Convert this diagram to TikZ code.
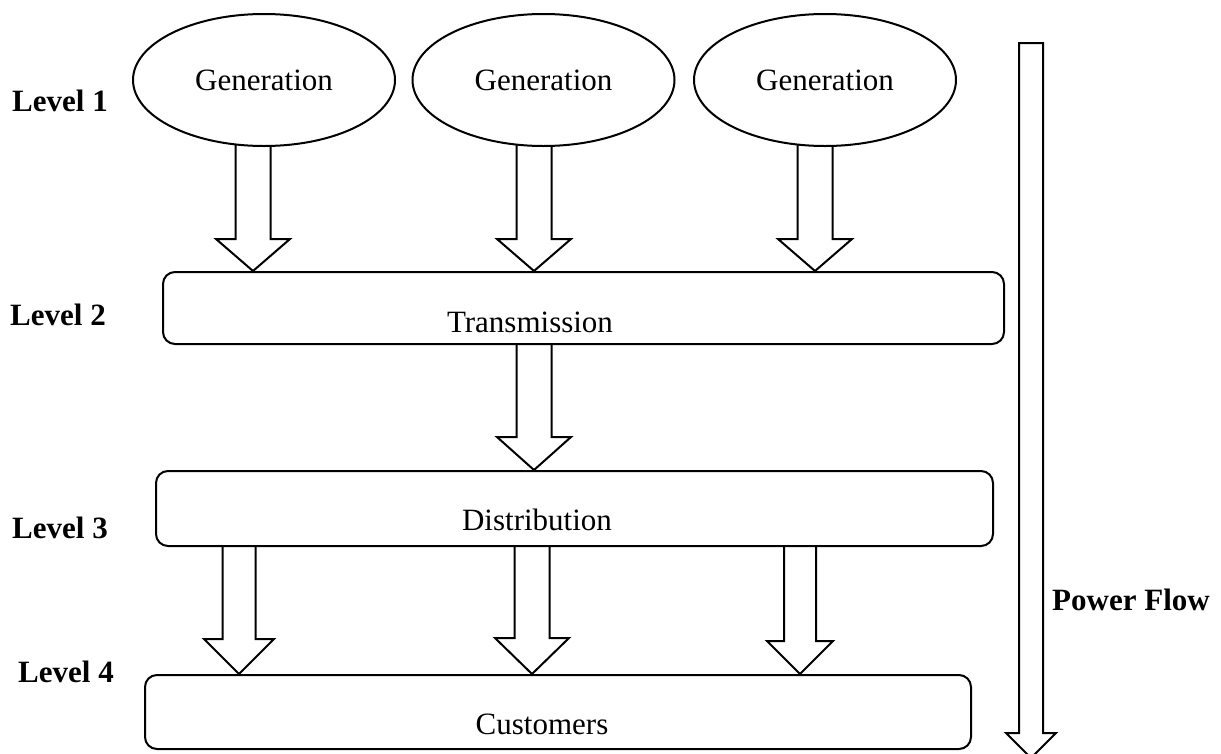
\documentclass[tikz,border=0pt]{standalone}
\usepackage{fontspec}
\setmainfont{Liberation Serif}
\usetikzlibrary{shapes.geometric,calc,backgrounds}

\tikzset{
  every node/.style={font=\fontsize{31}{37}\selectfont, inner sep=0pt},
  gen/.style={ellipse, draw, line width=2pt, fill=white,
              minimum width=262pt, minimum height=132pt},
  stage/.style={rectangle, draw, rounded corners=12pt, line width=2pt, fill=white},
  lvl/.style={anchor=base west, font=\fontsize{31}{37}\selectfont\bfseries},
  flow/.style={draw, line width=2pt, fill=white, line join=miter},
}

% hollow block arrow: from, to, shaft half-width, head half-width, head length
\newcommand\blockarrow[5]{%
  \draw[flow] let \p1=(#1), \p2=(#2) in
    (\x1-#3,\y1) -- (\x1-#3,\y2+#5) -- (\x1-#4,\y2+#5) -- (\x2,\y2)
    -- (\x1+#4,\y2+#5) -- (\x1+#3,\y2+#5) -- (\x1+#3,\y1);
}

\begin{document}
\begin{tikzpicture}[x=1pt,y=-1pt]
\useasboundingbox (0,0) rectangle (1221,753);

% level 1: generation
\node[gen] (g1) at (264,80)   {Generation};
\node[gen] (g2) at (543.5,80) {Generation};
\node[gen] (g3) at (825,80)   {Generation};

% levels 2 to 4
\node[stage, minimum width=841pt, minimum height=72pt] (trans) at (583.5,308) {};
\node (transtxt) at (530,322) {Transmission};
\node[stage, minimum width=837pt, minimum height=75pt] (dist) at (574.5,508.5) {};
\node (disttxt) at (537,520) {Distribution};
\node[stage, minimum width=826pt, minimum height=74pt] (cust) at (558,712) {};
\node (custtxt) at (542,724) {Customers};

% level labels
\node[lvl] (l1) at (12,111) {Level 1};
\node[lvl] (l2) at (10,325) {Level 2};
\node[lvl] (l3) at (12,538) {Level 3};
\node[lvl] (l4) at (18,682) {Level 4};
\node[lvl] (pf) at (1052,610) {Power Flow};

% arrow anchor points
\coordinate (a1s) at ($(g1.south)+(-11,-5)$);
\coordinate (a2s) at ($(g2.south)+(-9.5,-5)$);
\coordinate (a3s) at ($(g3.south)+(-10,-5)$);
\coordinate (a1e) at (a1s |- trans.north);
\coordinate (a2e) at (a2s |- trans.north);
\coordinate (a3e) at (a3s |- trans.north);
\coordinate (b1s) at ($(trans.south)+(-49.5,-4)$);
\coordinate (b1e) at (b1s |- dist.north);
\coordinate (c1s) at ($(dist.south west)+(84,-4)$);
\coordinate (c2s) at ($(dist.south west)+(377,-4)$);
\coordinate (c3s) at ($(dist.south west)+(645,-4)$);
\coordinate (c1e) at (c1s |- cust.north);
\coordinate (c2e) at (c2s |- cust.north);
\coordinate (c3e) at (c3s |- cust.north);
\coordinate (pftop) at (1031,43);
\coordinate (pftip) at (1031,758);

\begin{scope}[on background layer]
  \blockarrow{a1s}{a1e}{17.5pt}{37pt}{32pt}
  \blockarrow{a2s}{a2e}{17.5pt}{37pt}{32pt}
  \blockarrow{a3s}{a3e}{17.5pt}{37pt}{32pt}
  \blockarrow{b1s}{b1e}{17.5pt}{37pt}{33pt}
  \blockarrow{c1s}{c1e}{16.5pt}{35pt}{35pt}
  \blockarrow{c2s}{c2e}{17.5pt}{37pt}{36pt}
  \blockarrow{c3s}{c3e}{16pt}{33pt}{33pt}
\end{scope}

% overall power flow arrow
\draw[flow] let \p1=(pftop), \p2=(pftip) in
  (\x1-12pt,\y1) -- (\x1-12pt,\y2+25pt) -- (\x1-25pt,\y2+25pt) -- (\x2,\y2)
  -- (\x1+25pt,\y2+25pt) -- (\x1+12pt,\y2+25pt) -- (\x1+12pt,\y1) -- cycle;
\end{tikzpicture}
\end{document}
